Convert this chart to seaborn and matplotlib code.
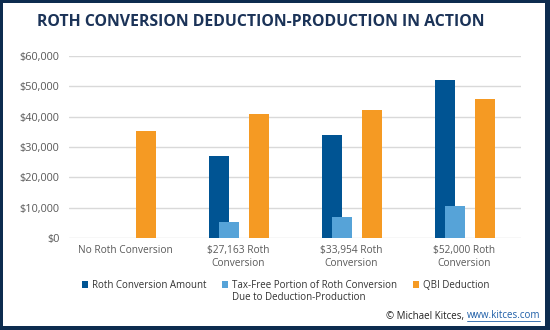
import matplotlib
matplotlib.use("Agg")
import matplotlib.pyplot as plt
from matplotlib.patches import Patch, Rectangle
from matplotlib.lines import Line2D
from matplotlib.ticker import FuncFormatter, MultipleLocator
import numpy as np
import seaborn as sns

# Scenario labels and the three series (USD)
categories = ["No Roth Conversion", "$27,163 Roth\nConversion",
              "$33,954 Roth\nConversion", "$52,000 Roth\nConversion"]
roth_amount = [0, 27163, 33954, 52000]
tax_free = [0, 5400, 7150, 10650]
qbi = [35400, 40800, 42200, 45750]
series_names = ["Roth Conversion Amount",
                "Tax-Free Portion of Roth Conversion",
                "QBI Deduction"]
series2_second_line = "Due to Deduction-Production"

NAVY = "#0d2c4f"
DARK_BLUE = "#005493"
LIGHT_BLUE = "#56a3d8"
ORANGE = "#f59a23"
GRID = "#d9d9d9"
TICK = "#595959"

sns.set_theme(style="white")
plt.rcParams["font.family"] = ["Open Sans", "DejaVu Sans"]

fig = plt.figure(figsize=(5.5, 3.3), dpi=100)
fig.patch.set_facecolor("white")
ax = fig.add_axes([69 / 550, 1 - 238.3 / 330, 452 / 550, (238.3 - 55.7) / 330])

idx = np.arange(len(categories))
bar_w = 20 / 113
offsets = [-19.5 / 113, -9.5 / 113, 20.5 / 113]
colors = [DARK_BLUE, LIGHT_BLUE, ORANGE]
for vals, off, col in zip([roth_amount, tax_free, qbi], offsets, colors):
    sns.barplot(x=idx + off, y=vals, native_scale=True, width=bar_w,
                color=col, saturation=1, linewidth=0, ax=ax)

ax.set_xlim(-0.5, len(categories) - 0.5)
ax.set_ylim(0, 60000)
ax.yaxis.set_major_locator(MultipleLocator(10000))
ax.yaxis.set_major_formatter(FuncFormatter(lambda v, p: f"${v:,.0f}"))
ax.set_xticks(idx)
ax.set_xticklabels(categories)
ax.grid(axis="y", color=GRID, linewidth=1)
ax.set_axisbelow(True)
for s in ax.spines.values():
    s.set_visible(False)
ax.tick_params(axis="both", length=0, labelcolor=TICK)
ax.tick_params(axis="x", labelsize=7.3, pad=5)
ax.tick_params(axis="y", labelsize=7.8, pad=7)
ax.set_xlabel("")
ax.set_ylabel("")

# Title
fig.text(260.5 / 550, 1 - 22 / 330, "ROTH CONVERSION DEDUCTION-PRODUCTION IN ACTION",
         ha="center", va="center", fontsize=11.4, fontweight="bold", color="#1b3358")

# Legend
handles = [Patch(facecolor=c, edgecolor="none") for c in colors]
leg = fig.legend(handles, series_names, loc="center",
                 bbox_to_anchor=(285.5 / 550, 1 - 285.5 / 330), ncol=3, frameon=False,
                 fontsize=7, handlelength=0.65, handleheight=0.65, handletextpad=0.4,
                 columnspacing=1.6, borderpad=0)
for t in leg.get_texts():
    t.set_color("#333333")

fig.canvas.draw()
rend = fig.canvas.get_renderer()
tb = leg.get_texts()[1].get_window_extent(rend).transformed(fig.transFigure.inverted())
fig.text(tb.x0, tb.y0 - 1.5 / 330, series2_second_line, ha="left", va="top",
         fontsize=7, color="#333333")

# Credit line
url = fig.text(540 / 550, 1 - 316 / 330, "www.kitces.com", ha="right", va="center",
               fontsize=7, color="#1f5fa8")
bb = url.get_window_extent(rend).transformed(fig.transFigure.inverted())
fig.text(bb.x0, 1 - 316 / 330, "\u00a9 Michael Kitces, ", ha="right", va="center",
         fontsize=7, color="#222222")
fig.add_artist(Line2D([bb.x0, bb.x1], [bb.y0 + 0.002, bb.y0 + 0.002],
                      transform=fig.transFigure, color="#1f5fa8", lw=0.6))

# Navy frame around the figure
W, H = 550, 330
for (x, y, w, h) in [(0, 0, 3, H), (W - 5, 0, 5, H), (0, 0, W, 4), (0, H - 3, W, 3)]:
    fig.add_artist(Rectangle((x / W, y / H), w / W, h / H, transform=fig.transFigure,
                             facecolor=NAVY, edgecolor="none"))

fig.savefig("out.png", dpi=100)
